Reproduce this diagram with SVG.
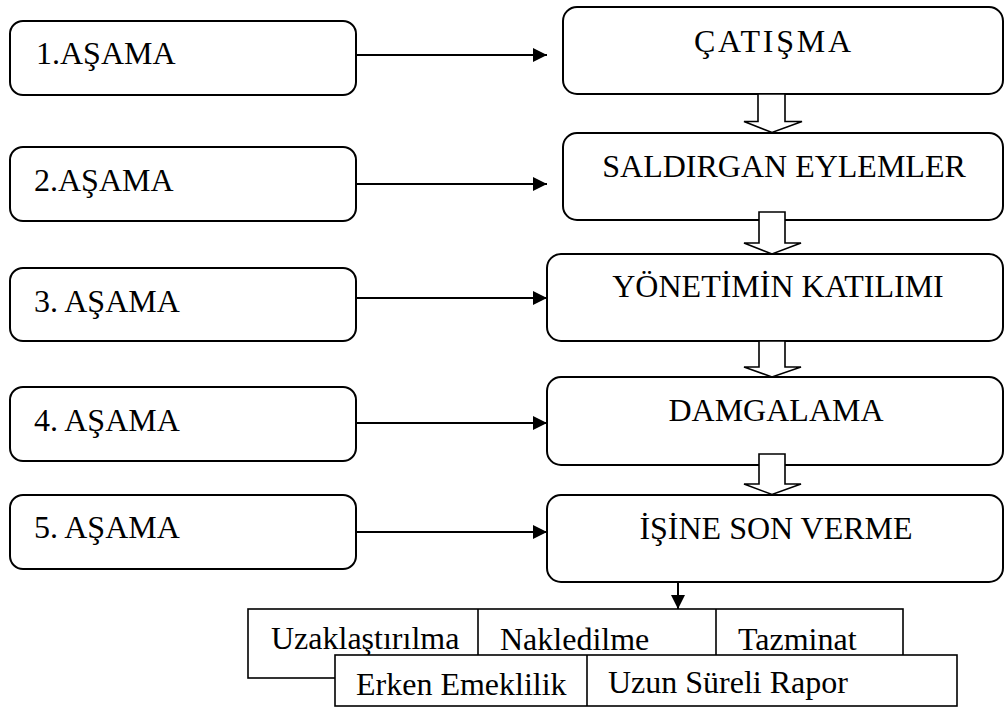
<svg xmlns="http://www.w3.org/2000/svg" width="1005" height="707" viewBox="0 0 1005 707">
<style>
text{font-family:"Liberation Serif","Times New Roman",serif;font-size:32px;fill:#000}
.rb{fill:#fff;stroke:#000;stroke-width:2}
.sq{fill:#fff;stroke:#000;stroke-width:1.6}
.ln{stroke:#000;stroke-width:2;fill:none}
.ho{fill:#fff;stroke:#000;stroke-width:1.6;stroke-linejoin:miter}
.c{text-anchor:middle}
</style>
<defs>
<marker id="ah" markerWidth="14" markerHeight="14" refX="14" refY="7" orient="auto" markerUnits="userSpaceOnUse">
<path d="M0,0 L14,7 L0,14 Z" fill="#000"/>
</marker>
</defs>
<rect width="1005" height="707" fill="#fff"/>
<g id="stage1"><rect class="rb" x="10" y="21" width="346" height="74" rx="13"/><text x="36" y="64">1.AŞAMA</text></g>
<g id="stage2"><rect class="rb" x="10" y="147" width="346" height="74" rx="13"/><text x="34" y="191">2.AŞAMA</text></g>
<g id="stage3"><rect class="rb" x="10" y="268" width="346" height="73" rx="13"/><text x="34" y="312">3. AŞAMA</text></g>
<g id="stage4"><rect class="rb" x="10" y="387" width="346" height="74" rx="13"/><text x="34" y="431">4. AŞAMA</text></g>
<g id="stage5"><rect class="rb" x="10" y="495" width="346" height="74" rx="13"/><text x="34" y="538">5. AŞAMA</text></g>
<g id="catisma"><rect class="rb" x="563" y="7" width="440" height="87" rx="14"/><text class="c" x="774" y="52" letter-spacing="2.8">ÇATIŞMA</text></g>
<g id="saldirgan"><rect class="rb" x="563" y="133" width="440" height="87" rx="14"/><text class="c" x="784" y="177">SALDIRGAN EYLEMLER</text></g>
<g id="yonetim"><rect class="rb" x="547" y="254" width="456" height="87" rx="14"/><text class="c" x="778" y="297">YÖNETİMİN KATILIMI</text></g>
<g id="damgalama"><rect class="rb" x="547" y="377" width="456" height="88" rx="14"/><text class="c" x="776" y="421">DAMGALAMA</text></g>
<g id="isine"><rect class="rb" x="547" y="495" width="456" height="87" rx="14"/><text class="c" x="776" y="539">İŞİNE SON VERME</text></g>
<g id="sonuclar1">
<rect class="sq" x="248" y="609" width="655" height="69"/>
<line class="ln" x1="478" y1="609" x2="478" y2="655" style="stroke-width:1.6"/>
<line class="ln" x1="716" y1="609" x2="716" y2="655" style="stroke-width:1.6"/>
<text x="271" y="649">Uzaklaştırılma</text>
<text x="500" y="650">Nakledilme</text>
<text x="738" y="650">Tazminat</text>
</g>
<g id="sonuclar2">
<rect class="sq" x="335" y="655" width="622" height="51"/>
<line class="ln" x1="587" y1="655" x2="587" y2="706" style="stroke-width:1.6"/>
<text x="356" y="695">Erken Emeklilik</text>
<text x="608" y="693">Uzun Süreli Rapor</text>
</g>
<g id="connectors">
<line class="ln" x1="356" y1="55" x2="547" y2="55" marker-end="url(#ah)"/>
<line class="ln" x1="356" y1="184" x2="547" y2="184" marker-end="url(#ah)"/>
<line class="ln" x1="356" y1="298" x2="547" y2="298" marker-end="url(#ah)"/>
<line class="ln" x1="356" y1="423" x2="547" y2="423" marker-end="url(#ah)"/>
<line class="ln" x1="356" y1="532" x2="547" y2="532" marker-end="url(#ah)"/>
<polygon class="ho" points="758,94 785,94 785,121.5 802,121.5 772,132.5 744,121.5 758,121.5"/>
<polygon class="ho" points="759,212 785,212 785,243 801,243 772,254 744,243 759,243"/>
<polygon class="ho" points="759,341 785,341 785,367 801,367 772,377 744,367 759,367"/>
<polygon class="ho" points="759,454 785,454 785,484 801,484 772,494.5 744,484 759,484"/>
<line class="ln" x1="678" y1="582" x2="678" y2="609" marker-end="url(#ah)"/>
</g>
</svg>
